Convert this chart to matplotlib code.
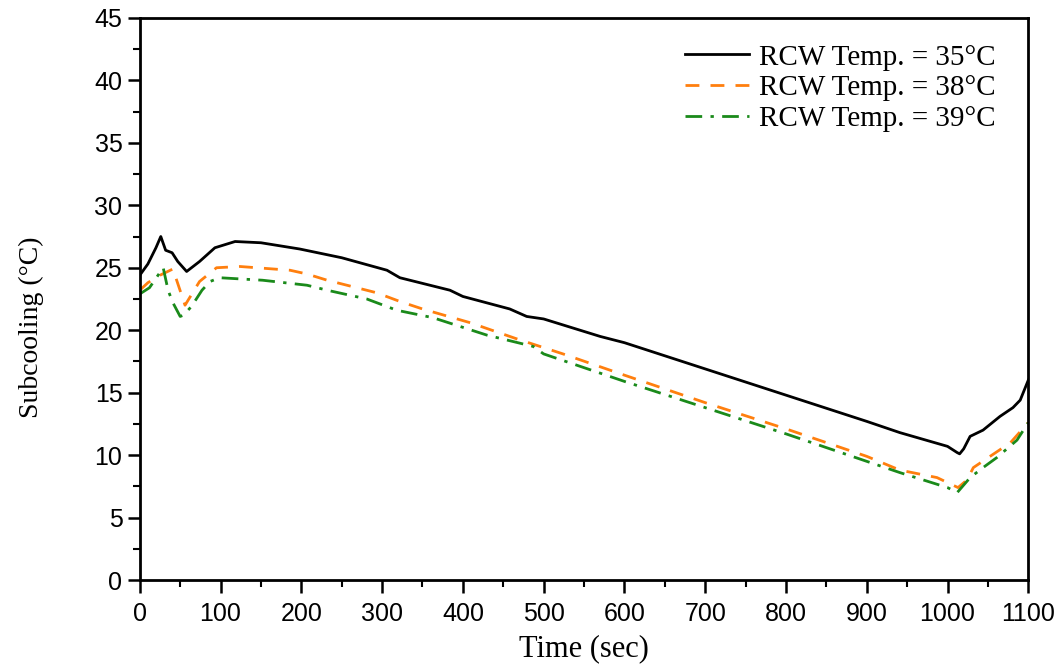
import matplotlib.pyplot as plt
from matplotlib.ticker import MultipleLocator

# RCW Temp. = 35 C
t35 = [0, 10, 20, 26, 32, 40, 47, 58, 74, 93, 118, 150, 198, 250, 306, 322, 384, 400,
       458, 479, 500, 570, 600, 700, 800, 900, 941, 1000, 1012, 1015, 1020, 1028,
       1044, 1065, 1081, 1090, 1100]
v35 = [24.4, 25.3, 26.6, 27.5, 26.4, 26.2, 25.5, 24.7, 25.5, 26.6, 27.1, 27.0, 26.5,
       25.8, 24.8, 24.2, 23.2, 22.7, 21.7, 21.1, 20.9, 19.5, 19.0, 16.9, 14.8, 12.7,
       11.8, 10.7, 10.2, 10.1, 10.5, 11.5, 12.0, 13.1, 13.8, 14.4, 16.0]

# RCW Temp. = 38 C
t38 = [0, 10, 25, 41, 56, 74, 95, 124, 186, 207, 232, 293, 322, 350, 409, 467, 524,
       600, 700, 800, 900, 941, 987, 1013, 1024, 1032, 1078, 1100]
v38 = [23.2, 23.8, 24.4, 24.9, 22.0, 23.9, 25.0, 25.1, 24.8, 24.5, 24.0, 23.0, 22.3,
       21.7, 20.6, 19.3, 18.1, 16.4, 14.2, 12.1, 9.9, 8.8, 8.2, 7.4, 8.0, 9.0, 11.0, 12.6]

# RCW Temp. = 39 C
t39 = [0, 12, 29, 35, 41, 50, 54, 64, 77, 87, 99, 152, 207, 232, 281, 318, 363, 430,
       487, 500, 600, 700, 800, 900, 941, 1000, 1012, 1028, 1044, 1061, 1086, 1100]
v39 = [22.9, 23.4, 25.0, 23.2, 22.2, 21.1, 21.2, 21.9, 23.2, 23.9, 24.2, 24.0, 23.6,
       23.2, 22.5, 21.6, 21.0, 19.6, 18.7, 18.1, 15.9, 13.8, 11.7, 9.5, 8.6, 7.4, 7.0,
       8.2, 9.0, 9.8, 11.2, 12.6]

labels = ['RCW Temp. = 35\u00b0C', 'RCW Temp. = 38\u00b0C', 'RCW Temp. = 39\u00b0C']

serif = ['Liberation Serif', 'DejaVu Serif']
sans = ['Liberation Sans', 'DejaVu Sans']

fig = plt.figure(figsize=(10.59, 6.64), dpi=100)
ax = fig.add_axes([0.132, 0.1265, 0.839, 0.8465])

ax.plot(t35, v35, color='black', lw=2.0, ls='-', label=labels[0])
ax.plot(t38, v38, color='#ff7f0e', lw=2.0, ls=(0, (5, 4)), label=labels[1])
ax.plot(t39, v39, color='#1a8a1a', lw=2.0, ls=(0, (6, 3, 1.2, 3)), label=labels[2])

ax.set_xlim(0, 1100)
ax.set_ylim(0, 45)
ax.xaxis.set_major_locator(MultipleLocator(100))
ax.xaxis.set_minor_locator(MultipleLocator(50))
ax.yaxis.set_major_locator(MultipleLocator(5))
ax.yaxis.set_minor_locator(MultipleLocator(2.5))
ax.tick_params(which='major', direction='out', length=9, width=1.8, labelsize=18)
ax.tick_params(which='minor', direction='out', length=5, width=1.5)
ax.tick_params(axis='x', pad=7)
for lab in ax.get_xticklabels() + ax.get_yticklabels():
    lab.set_family(sans)
for s in ax.spines.values():
    s.set_linewidth(2.0)

ax.set_xlabel('Time (sec)', family=serif, fontsize=22, labelpad=6)
ax.set_ylabel('Subcooling (\u00b0C)', family=serif, fontsize=20)
ax.yaxis.set_label_coords(-0.108, 0.45)

leg = ax.legend(loc='upper right', frameon=False, prop={'family': serif, 'size': 21},
                handlelength=2.2, handletextpad=0.35, labelspacing=0.15,
                bbox_to_anchor=(0.993, 1.0))

fig.savefig('out.png', dpi=100)
